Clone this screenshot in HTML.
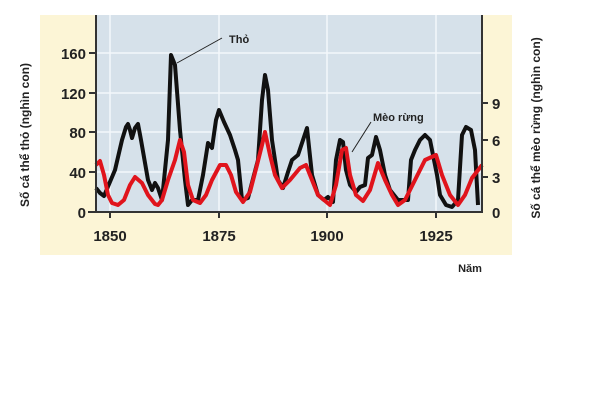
<!DOCTYPE html>
<html><head><meta charset="utf-8"><style>
html,body{margin:0;padding:0;background:#fff;width:602px;height:401px;overflow:hidden}
svg{display:block}
text{font-family:"Liberation Sans",sans-serif;font-weight:bold;fill:#222}
</style></head><body>
<svg width="602" height="401" viewBox="0 0 602 401">
<rect x="40" y="15" width="472" height="240" fill="#fcf5d6"/>
<rect x="96" y="15" width="386" height="197" fill="#d6e1ea"/>
<g stroke="#f4f8fb" stroke-width="1.5">
<line x1="96" x2="482" y1="172" y2="172"/><line x1="96" x2="482" y1="132" y2="132"/>
<line x1="96" x2="482" y1="93" y2="93"/><line x1="96" x2="482" y1="53" y2="53"/>
<line x1="110" x2="110" y1="15" y2="212"/><line x1="219" x2="219" y1="15" y2="212"/>
<line x1="327" x2="327" y1="15" y2="212"/><line x1="436" x2="436" y1="15" y2="212"/>
</g>
<polyline fill="none" stroke="#111" stroke-width="4" stroke-linejoin="round" points="96,188 100,193 104,196 115,170 122,140 126,127 128,124 130,130 132,138 135,128 138,124 141,140 148,180 152,190 155,183 158,188 162,200 168,140 171,55 175,65 180,130 185,180 188,205 192,200 198,200 203,175 208,143 212,148 216,120 219,110 224,122 230,135 235,150 238,160 242,200 248,198 254,175 258,160 262,100 265,75 268,90 272,140 278,180 283,188 288,172 292,160 298,155 303,140 307,128 312,175 318,195 324,200 328,197 333,202 336,160 340,140 343,142 346,170 350,185 356,192 360,187 365,185 368,158 372,155 376,137 380,150 385,175 390,190 398,200 408,200 411,160 415,150 420,140 425,135 430,140 437,175 440,195 446,205 452,207 458,200 462,135 466,127 471,130 475,150 478,205"/>
<polyline fill="none" stroke="#e0141c" stroke-width="4" stroke-linejoin="round" points="96,165 100,161 104,175 108,195 112,203 118,205 124,200 130,185 135,177 142,183 148,195 155,204 158,205 162,200 168,180 175,160 180,140 184,152 188,185 193,200 200,203 206,195 212,180 220,165 226,165 231,175 236,192 243,202 250,192 257,165 262,145 265,132 270,155 275,175 282,188 290,180 300,168 306,165 312,180 318,195 324,200 330,205 336,185 342,150 346,148 350,175 356,195 363,201 370,190 378,163 385,180 392,195 398,205 405,200 415,180 425,160 436,155 442,175 450,195 458,205 465,195 472,178 482,165"/>
<g stroke="#333" stroke-width="2">
<line x1="96" y1="15" x2="96" y2="213"/><line x1="482" y1="15" x2="482" y2="213"/>
<line x1="88" y1="212" x2="482" y2="212"/>
<line x1="89" y1="172" x2="96" y2="172"/><line x1="89" y1="132" x2="96" y2="132"/><line x1="89" y1="93" x2="96" y2="93"/><line x1="89" y1="53" x2="96" y2="53"/>
<line x1="482" y1="177" x2="488" y2="177"/><line x1="482" y1="140" x2="488" y2="140"/><line x1="482" y1="103" x2="488" y2="103"/>
<line x1="110" y1="212" x2="110" y2="218"/><line x1="219" y1="212" x2="219" y2="218"/><line x1="327" y1="212" x2="327" y2="218"/><line x1="436" y1="212" x2="436" y2="218"/>
</g>
<g font-size="15" text-anchor="end">
<text x="86" y="218">0</text><text x="86" y="178">40</text><text x="86" y="138">80</text><text x="86" y="99">120</text><text x="86" y="59">160</text>
</g>
<g font-size="15">
<text x="492" y="218">0</text><text x="492" y="183">3</text><text x="492" y="146">6</text><text x="492" y="109">9</text>
</g>
<g font-size="15" text-anchor="middle">
<text x="110" y="241">1850</text><text x="219" y="241">1875</text><text x="327" y="241">1900</text><text x="436" y="241">1925</text>
</g>
<text x="470" y="272" font-size="11" text-anchor="middle">Năm</text>
<text font-size="12" text-anchor="middle" transform="translate(29,135) rotate(-90)">Số cá thể thỏ (nghìn con)</text>
<text font-size="12" text-anchor="middle" transform="translate(540,128) rotate(-90)">Số cá thể mèo rừng (nghìn con)</text>
<line x1="222" y1="38" x2="177" y2="63" stroke="#222" stroke-width="1"/>
<text x="229" y="43" font-size="11">Thỏ</text>
<line x1="371" y1="122" x2="352" y2="152" stroke="#222" stroke-width="1"/>
<text x="373" y="121" font-size="11">Mèo rừng</text>
</svg>
</body></html>
